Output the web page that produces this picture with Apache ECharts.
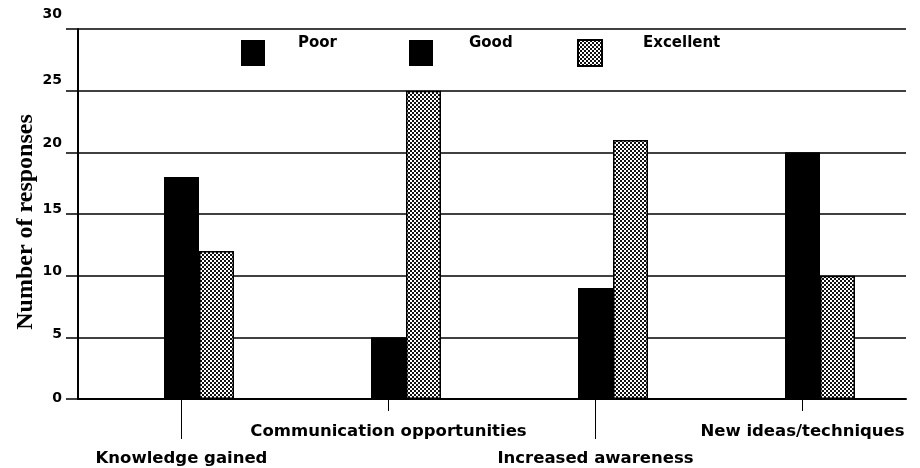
<!DOCTYPE html>
<html>
<head>
<meta charset="utf-8">
<script src="https://cdn.jsdelivr.net/npm/echarts@6/dist/echarts.min.js"></script>
<style>
  html, body { margin: 0; padding: 0; background: #fff; }
  #chart { width: 920px; height: 468px; }
</style>
</head>
<body>
<div id="chart"></div>
<script>
  // data
  var categories = ['Knowledge gained', 'Communication opportunities', 'Increased awareness', 'New ideas/techniques']
  var poor = [0, 0, 0, 0]
  var good = [18, 5, 9, 20]
  var excellent = [12, 25, 21, 10]
  var yTicks = [0, 5, 10, 15, 20, 25, 30]

  // dithered fill for "Excellent"
  function checker() {
    var c = document.createElement('canvas')
    c.width = 4
    c.height = 4
    var ctx = c.getContext('2d')
    ctx.fillStyle = '#fff'
    ctx.fillRect(0, 0, 4, 4)
    ctx.fillStyle = '#111'
    ctx.fillRect(0, 0, 2, 2)
    ctx.fillRect(2, 2, 2, 2)
    return c
  }
  var pattern = { image: checker(), repeat: 'repeat' }

  // labels near the top sit a bit higher in the scan
  var lift = { 30: 30, 25: 20, 20: 18, 15: 10, 10: 8, 5: 6, 0: 2 }
  var rich = {}
  yTicks.forEach(function (t) {
    rich['v' + t] = {
      fontFamily: 'DejaVu Sans', fontWeight: 'bold', fontSize: 14, color: '#000',
      padding: [0, 0, lift[t], 0]
    }
  })

  function legendAt(name, left, gap) {
    return {
      top: 33,
      left: left,
      padding: 0,
      itemWidth: 24,
      itemHeight: 26,
      icon: 'rect',
      selectedMode: false,
      data: [name],
      // second empty line lifts the name above the swatch centre
      formatter: function (n) { return n + '\n ' },
      textStyle: {
        fontFamily: 'DejaVu Sans', fontWeight: 'bold', fontSize: 15, color: '#000',
        lineHeight: 20,
        padding: [0, 0, 0, gap]
      }
    }
  }

  var labelFont = { fontFamily: 'DejaVu Sans', fontWeight: 'bold', fontSize: 16.5, color: '#000' }

  var option = {
    animation: false,
    backgroundColor: '#fff',
    grid: { left: 78, right: 14, top: 29, bottom: 69, outerBoundsMode: 'none' },
    legend: [
      legendAt('Poor', 241, 28),
      legendAt('Good', 409, 31),
      legendAt('Excellent', 577, 36)
    ],
    xAxis: [{
      type: 'category',
      data: categories,
      axisLine: { lineStyle: { color: '#000', width: 2 } },
      axisTick: {
        show: true,
        alignWithLabel: true,
        length: 40,
        interval: function (i) { return i % 2 === 0 },
        lineStyle: { color: '#000', width: 1 }
      },
      axisLabel: Object.assign({}, labelFont, {
        interval: 0,
        margin: 19,
        lineHeight: 27,
        formatter: function (v, i) { return i % 2 === 0 ? '\n' + v : v }
      })
    }, {
      // short ticks for the upper labels
      type: 'category',
      data: categories,
      position: 'bottom',
      axisLine: { show: false },
      axisTick: {
        show: true,
        alignWithLabel: true,
        length: 12,
        interval: function (i) { return i % 2 === 1 },
        lineStyle: { color: '#000', width: 1 }
      },
      axisLabel: { show: false }
    }],
    yAxis: {
      type: 'value',
      min: 0,
      max: 30,
      interval: 5,
      name: 'Number of responses',
      nameLocation: 'middle',
      nameGap: 40,
      nameMoveOverlap: false,
      nameTextStyle: {
        fontFamily: 'Liberation Serif', fontWeight: 'bold', fontSize: 24, color: '#000',
        padding: [0, 16, 0, 0]
      },
      axisLine: { show: true, lineStyle: { color: '#000', width: 2 } },
      axisTick: { show: true, length: 12, lineStyle: { color: '#000', width: 1.5 } },
      splitLine: { lineStyle: { color: '#000', width: 1.5 } },
      axisLabel: {
        margin: 16,
        rich: rich,
        formatter: function (v) { return '{v' + v + '|' + v + '}' }
      }
    },
    series: [{
      name: 'Poor',
      type: 'bar',
      data: poor,
      barWidth: 35,
      barGap: '0%',
      itemStyle: { color: '#000' }
    }, {
      name: 'Good',
      type: 'bar',
      data: good,
      barWidth: 35,
      barGap: '0%',
      itemStyle: { color: '#000' }
    }, {
      name: 'Excellent',
      type: 'bar',
      data: excellent,
      barWidth: 35,
      barGap: '0%',
      itemStyle: { color: pattern, borderColor: '#000', borderWidth: 1.5 }
    }]
  }

  var chart = echarts.init(document.getElementById('chart'))
  chart.setOption(option)
</script>
</body>
</html>
